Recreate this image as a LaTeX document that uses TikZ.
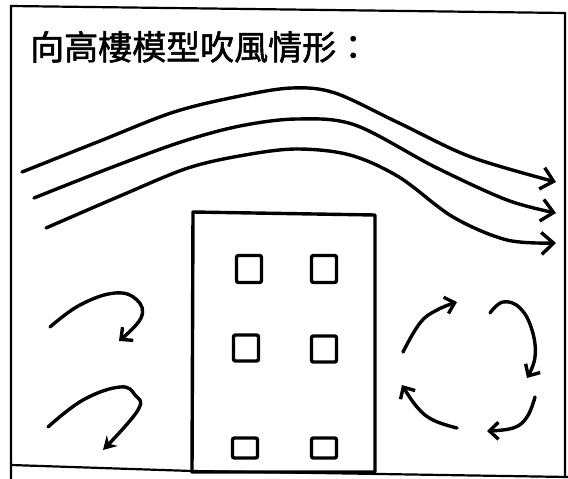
\documentclass[tikz,border=0pt]{standalone}
\usepackage{fontspec}
\newfontfamily\cjk{Noto Sans CJK TC}[FakeBold=1.6]
\usetikzlibrary{arrows.meta}

\begin{document}
\begin{tikzpicture}[x=1pt,y=-1pt]
    \tikzstyle{frame} = [line width=2.2pt, line cap=round]
    \tikzstyle{stroke} = [line width=3.4pt, line cap=round, line join=round]
    \tikzstyle{wind} = [stroke, -{Straight Barb[length=12pt,width=22pt]}]
    \tikzstyle{swirl} = [stroke, -{Straight Barb[length=9pt,width=17pt]}]
    \tikzstyle{window} = [draw, line width=3.4pt, rounded corners=2pt, minimum width=25pt, inner sep=0pt]
    \useasboundingbox (0,0) rectangle (568,479);
    % Frame
    \coordinate (tl) at (11,6);
    \coordinate (tr) at (565,13);
    \coordinate (br) at (565,476);
    \draw[frame] (11,479) -- (tl) -- (tr) -- (br);
    \draw[frame] (11,465) -- (192,471) -- (568,477);
    % Title
    \node (title) [anchor=west, inner sep=0pt, font=\cjk\fontsize{34}{40}\selectfont] at (30,47) {向高樓模型吹風情形：};
    % Building
    \coordinate (b1) at (193,212);
    \coordinate (b2) at (375,215);
    \coordinate (b3) at (375,472);
    \coordinate (b4) at (192,472);
    \draw[stroke] (b1) -- (b2) -- (b3) -- (b4) -- cycle;
    \foreach \x/\y/\h [count=\i] in {249/269/27, 324/269/27, 246/348/26, 324/349/26, 245/448/20, 324/448/20}
        \node (win\i) [window, minimum height=\h pt] at (\x,\y) {};
    % Wind over the roof
    \draw[wind] plot[smooth, tension=0.55] coordinates {(22,172) (100,141) (174,112) (240,96) (292,88) (335,93) (399,123) (471,157) (556,182)};
    \draw[wind] plot[smooth, tension=0.55] coordinates {(34,198) (110,168) (181,142) (240,126) (297,119) (355,125) (435,167) (507,200) (556,213)};
    \draw[wind] plot[smooth, tension=0.55] coordinates {(46,228) (120,196) (188,168) (245,155) (297,149) (350,155) (399,177) (453,217) (507,240) (556,243)};
    % Eddies in front
    \draw[swirl] plot[smooth, tension=0.7] coordinates {(50,327) (80,305) (115,293) (137,300) (141,318) (119,341)};
    \draw[stroke, -{Stealth[length=13pt,width=15pt]}] plot[smooth, tension=0.7] coordinates {(48,427) (83,400) (120,387) (135,395) (138,410) (103,450)};
    % Eddies behind
    \draw[swirl] plot[smooth, tension=0.7] coordinates {(403,352) (420,323) (437,310) (457,302)};
    \draw[swirl] plot[smooth, tension=0.7] coordinates {(490,313) (503,302) (520,308) (532,330) (535,357) (527,378)};
    \draw[swirl] plot[smooth, tension=0.7] coordinates {(535,397) (527,417) (513,428) (487,431)};
    \draw[swirl] plot[smooth, tension=0.7] coordinates {(457,428) (433,420) (417,407) (402,385)};
\end{tikzpicture}
\end{document}
